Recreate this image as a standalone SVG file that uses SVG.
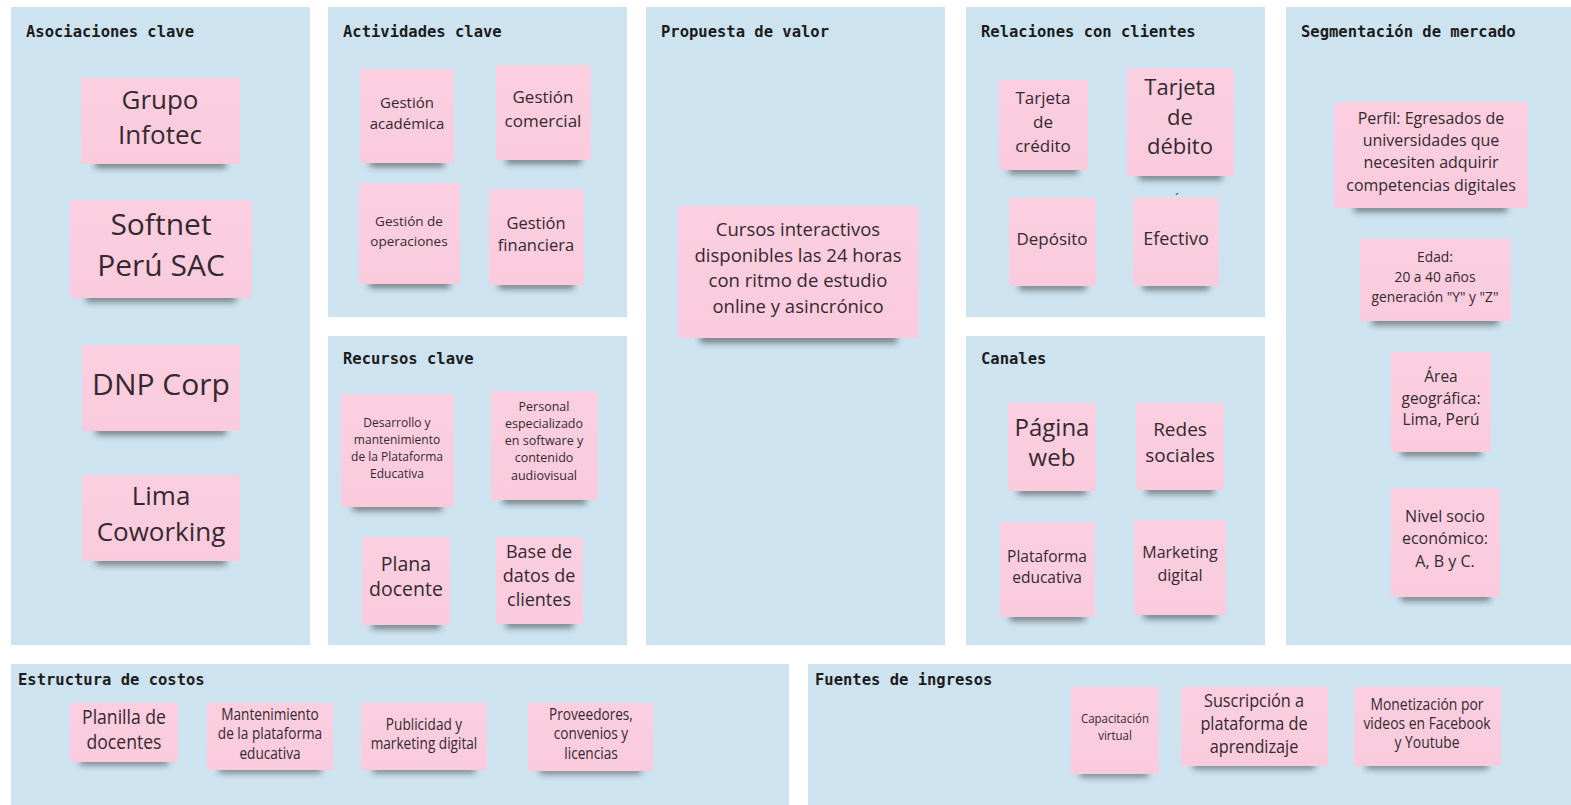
<svg xmlns="http://www.w3.org/2000/svg" width="1571" height="805" viewBox="0 0 1571 805">
<style>
.panel{fill:#cde3ef}
.hdr{font-family:"DejaVu Sans Mono","Liberation Mono",monospace;font-weight:bold;font-size:15.5px;fill:#1c1c1c}
.note{fill:url(#ng)}
.sh{fill:#2a2a2a;opacity:0.55;filter:url(#blur)}
.t{font-family:"Open Sans","Noto Sans",sans-serif;fill:#35292f;text-anchor:middle}
</style>
<defs>
<linearGradient id="ng" x1="0" y1="0" x2="0" y2="1">
<stop offset="0" stop-color="#fbcfe0"/>
<stop offset="1" stop-color="#f9cbdd"/>
</linearGradient>
<filter id="blur" x="-20%" y="-200%" width="140%" height="500%"><feGaussianBlur stdDeviation="3"/></filter>
</defs>
<rect width="1571" height="805" fill="#ffffff"/>

<g id="panels">
<rect class="panel" x="11" y="7" width="299" height="638"/>
<rect class="panel" x="328" y="7" width="299" height="310"/>
<rect class="panel" x="328" y="336" width="299" height="309"/>
<rect class="panel" x="646" y="7" width="299" height="638"/>
<rect class="panel" x="966" y="7" width="299" height="310"/>
<rect class="panel" x="966" y="336" width="299" height="309"/>
<rect class="panel" x="1286" y="7" width="285" height="638"/>
<rect class="panel" x="11" y="664" width="778" height="141"/>
<rect class="panel" x="808" y="664" width="763" height="141"/>
<text class="hdr" x="26" y="37">Asociaciones clave</text>
<text class="hdr" x="343" y="37">Actividades clave</text>
<text class="hdr" x="343" y="364">Recursos clave</text>
<text class="hdr" x="661" y="37">Propuesta de valor</text>
<text class="hdr" x="981" y="37">Relaciones con clientes</text>
<text class="hdr" x="981" y="364">Canales</text>
<text class="hdr" x="1301" y="37">Segmentación de mercado</text>
<text class="hdr" x="18" y="685">Estructura de costos</text>
<text class="hdr" x="815" y="685">Fuentes de ingresos</text>
</g>

<!-- Asociaciones clave -->
<g id="n-grupo-infotec">
<rect class="sh" x="95" y="160" width="131" height="8"/>
<rect class="note" x="81" y="78" width="159" height="86"/>
<text class="t" font-size="26" x="160"><tspan x="160" y="109">Grupo</tspan><tspan x="160" y="144">Infotec</tspan></text>
</g>
<g id="n-softnet">
<rect class="sh" x="86" y="294" width="150" height="8"/>
<rect class="note" x="70" y="200" width="182" height="98"/>
<text class="t" font-size="30" x="161"><tspan x="161" y="235">Softnet</tspan><tspan x="161" y="276">Perú SAC</tspan></text>
</g>
<g id="n-dnp">
<rect class="sh" x="96" y="427" width="130" height="8"/>
<rect class="note" x="82" y="345" width="158" height="86"/>
<text class="t" font-size="30" x="161" y="395">DNP Corp</text>
</g>
<g id="n-lima">
<rect class="sh" x="96" y="557" width="130" height="8"/>
<rect class="note" x="82" y="475" width="158" height="86"/>
<text class="t" font-size="26" x="161"><tspan x="161" y="505">Lima</tspan><tspan x="161" y="541">Coworking</tspan></text>
</g>

<!-- Actividades clave -->
<g id="n-gestion-academica">
<rect class="sh" x="370" y="159" width="74" height="8"/>
<rect class="note" x="360" y="69" width="94" height="94"/>
<text class="t" font-size="15" x="407"><tspan x="407" y="108">Gestión</tspan><tspan x="407" y="129">académica</tspan></text>
</g>
<g id="n-gestion-comercial">
<rect class="sh" x="506" y="156" width="75" height="8"/>
<rect class="note" x="496" y="65" width="95" height="95"/>
<text class="t" font-size="17" x="543"><tspan x="543" y="103">Gestión</tspan><tspan x="543" y="127">comercial</tspan></text>
</g>
<g id="n-gestion-operaciones">
<rect class="sh" x="369" y="280" width="81" height="8"/>
<rect class="note" x="359" y="183" width="101" height="101"/>
<text class="t" font-size="13.5" x="409"><tspan x="409" y="226">Gestión de</tspan><tspan x="409" y="246">operaciones</tspan></text>
</g>
<g id="n-gestion-financiera">
<rect class="sh" x="499" y="281" width="75" height="8"/>
<rect class="note" x="489" y="189" width="95" height="96"/>
<text class="t" font-size="16.5" x="536"><tspan x="536" y="229">Gestión</tspan><tspan x="536" y="251">financiera</tspan></text>
</g>

<!-- Recursos clave -->
<g id="n-desarrollo">
<rect class="sh" x="353" y="503" width="89" height="8"/>
<rect class="note" x="341" y="394" width="113" height="113"/>
<text class="t" font-size="12" x="397"><tspan x="397" y="427">Desarrollo y</tspan><tspan x="397" y="444">mantenimiento</tspan><tspan x="397" y="461">de la Plataforma</tspan><tspan x="397" y="478">Educativa</tspan></text>
</g>
<g id="n-personal">
<rect class="sh" x="503" y="496" width="83" height="8"/>
<rect class="note" x="491" y="391" width="107" height="109"/>
<text class="t" font-size="12.5" x="544"><tspan x="544" y="411">Personal</tspan><tspan x="544" y="428">especializado</tspan><tspan x="544" y="445">en software y</tspan><tspan x="544" y="462">contenido</tspan><tspan x="544" y="480">audiovisual</tspan></text>
</g>
<g id="n-plana">
<rect class="sh" x="372" y="621" width="68" height="8"/>
<rect class="note" x="362" y="537" width="88" height="88"/>
<text class="t" font-size="19.5" x="406"><tspan x="406" y="571">Plana</tspan><tspan x="406" y="596">docente</tspan></text>
</g>
<g id="n-base">
<rect class="sh" x="506" y="620" width="67" height="8"/>
<rect class="note" x="496" y="537" width="87" height="87"/>
<text class="t" font-size="18" x="539"><tspan x="539" y="558">Base de</tspan><tspan x="539" y="582">datos de</tspan><tspan x="539" y="606">clientes</tspan></text>
</g>

<!-- Propuesta de valor -->
<g id="n-cursos">
<rect class="sh" x="700" y="334" width="197" height="9"/>
<rect class="note" x="678" y="206" width="241" height="132"/>
<text class="t" font-size="18.5" x="798"><tspan x="798" y="236">Cursos interactivos</tspan><tspan x="798" y="262">disponibles las 24 horas</tspan><tspan x="798" y="287">con ritmo de estudio</tspan><tspan x="798" y="313">online y asincrónico</tspan></text>
</g>

<!-- Relaciones con clientes -->
<g id="n-tarjeta-credito">
<rect class="sh" x="1009" y="166" width="69" height="8"/>
<rect class="note" x="999" y="80" width="89" height="90"/>
<text class="t" font-size="17" x="1043"><tspan x="1043" y="104">Tarjeta</tspan><tspan x="1043" y="128">de</tspan><tspan x="1043" y="152">crédito</tspan></text>
</g>
<g id="n-tarjeta-debito">
<rect class="sh" x="1139" y="172" width="83" height="8"/>
<rect class="note" x="1127" y="68" width="107" height="108"/>
<text class="t" font-size="22" x="1180"><tspan x="1180" y="95">Tarjeta</tspan><tspan x="1180" y="125">de</tspan><tspan x="1180" y="154">débito</tspan></text>
</g>
<text class="t" font-size="13" x="1177" y="203">´</text>
<g id="n-deposito">
<rect class="sh" x="1019" y="282" width="67" height="8"/>
<rect class="note" x="1009" y="198" width="87" height="88"/>
<text class="t" font-size="17" x="1052" y="245">Depósito</text>
</g>
<g id="n-efectivo">
<rect class="sh" x="1143" y="282" width="66" height="8"/>
<rect class="note" x="1133" y="198" width="86" height="88"/>
<text class="t" font-size="18" x="1176" y="245">Efectivo</text>
</g>

<!-- Canales -->
<g id="n-pagina-web">
<rect class="sh" x="1018" y="487" width="68" height="8"/>
<rect class="note" x="1008" y="403" width="88" height="88"/>
<text class="t" font-size="24" x="1052"><tspan x="1052" y="436">Página</tspan><tspan x="1052" y="466">web</tspan></text>
</g>
<g id="n-redes">
<rect class="sh" x="1146" y="486" width="68" height="8"/>
<rect class="note" x="1136" y="403" width="88" height="87"/>
<text class="t" font-size="19" x="1180"><tspan x="1180" y="436">Redes</tspan><tspan x="1180" y="462">sociales</tspan></text>
</g>
<g id="n-plataforma">
<rect class="sh" x="1010" y="613" width="75" height="8"/>
<rect class="note" x="1000" y="522" width="95" height="95"/>
<text class="t" font-size="15.5" x="1047"><tspan x="1047" y="562">Plataforma</tspan><tspan x="1047" y="583">educativa</tspan></text>
</g>
<g id="n-marketing">
<rect class="sh" x="1144" y="611" width="72" height="8"/>
<rect class="note" x="1134" y="520" width="92" height="95"/>
<text class="t" font-size="16" x="1180"><tspan x="1180" y="558">Marketing</tspan><tspan x="1180" y="581">digital</tspan></text>
</g>

<!-- Segmentación de mercado -->
<g id="n-perfil">
<rect class="sh" x="1354" y="204" width="153" height="8"/>
<rect class="note" x="1334" y="102" width="194" height="106"/>
<text class="t" font-size="16" x="1431"><tspan x="1431" y="124">Perfil: Egresados de</tspan><tspan x="1431" y="146">universidades que</tspan><tspan x="1431" y="168">necesiten adquirir</tspan><tspan x="1431" y="191">competencias digitales</tspan></text>
</g>
<g id="n-edad">
<rect class="sh" x="1372" y="317" width="126" height="8"/>
<rect class="note" x="1360" y="239" width="151" height="82"/>
<text class="t" font-size="13.8" x="1435"><tspan x="1435" y="262">Edad:</tspan><tspan x="1435" y="282">20 a 40 años</tspan><tspan x="1435" y="302">generación "Y" y "Z"</tspan></text>
</g>
<g id="n-area">
<rect class="sh" x="1401" y="448" width="80" height="8"/>
<rect class="note" x="1391" y="352" width="100" height="100"/>
<text class="t" font-size="15.5" x="1441"><tspan x="1441" y="382">Área</tspan><tspan x="1441" y="404">geográfica:</tspan><tspan x="1441" y="425">Lima, Perú</tspan></text>
</g>
<g id="n-nivel">
<rect class="sh" x="1401" y="593" width="89" height="8"/>
<rect class="note" x="1391" y="488" width="109" height="109"/>
<text class="t" font-size="16" x="1445"><tspan x="1445" y="522">Nivel socio</tspan><tspan x="1445" y="544">económico:</tspan><tspan x="1445" y="567">A, B y C.</tspan></text>
</g>

<!-- Estructura de costos -->
<g id="n-planilla">
<rect class="sh" x="80" y="758" width="88" height="7"/>
<rect class="note" x="70" y="703" width="108" height="59"/>
<text class="t" font-size="20" x="124" transform="translate(124 0) scale(0.88 1) translate(-124 0)"><tspan x="124" y="724">Planilla de</tspan><tspan x="124" y="749">docentes</tspan></text>
</g>
<g id="n-mantenimiento">
<rect class="sh" x="219" y="766" width="102" height="7"/>
<rect class="note" x="207" y="703" width="126" height="67"/>
<text class="t" font-size="15.5" x="270" transform="translate(270 0) scale(0.88 1) translate(-270 0)"><tspan x="270" y="720">Mantenimiento</tspan><tspan x="270" y="739">de la plataforma</tspan><tspan x="270" y="759">educativa</tspan></text>
</g>
<g id="n-publicidad">
<rect class="sh" x="373" y="766" width="102" height="7"/>
<rect class="note" x="361" y="703" width="126" height="67"/>
<text class="t" font-size="15.5" x="424" transform="translate(424 0) scale(0.88 1) translate(-424 0)"><tspan x="424" y="730">Publicidad y</tspan><tspan x="424" y="749">marketing digital</tspan></text>
</g>
<g id="n-proveedores">
<rect class="sh" x="540" y="767" width="101" height="7"/>
<rect class="note" x="528" y="703" width="125" height="68"/>
<text class="t" font-size="15.5" x="591" transform="translate(591 0) scale(0.88 1) translate(-591 0)"><tspan x="591" y="720">Proveedores,</tspan><tspan x="591" y="739">convenios y</tspan><tspan x="591" y="759">licencias</tspan></text>
</g>

<!-- Fuentes de ingresos -->
<g id="n-capacitacion">
<rect class="sh" x="1080" y="770" width="68" height="7"/>
<rect class="note" x="1071" y="687" width="88" height="87"/>
<text class="t" font-size="13" x="1115" transform="translate(1115 0) scale(0.88 1) translate(-1115 0)"><tspan x="1115" y="723">Capacitación</tspan><tspan x="1115" y="740">virtual</tspan></text>
</g>
<g id="n-suscripcion">
<rect class="sh" x="1193" y="762" width="122" height="7"/>
<rect class="note" x="1181" y="687" width="147" height="79"/>
<text class="t" font-size="18.5" x="1254" transform="translate(1254 0) scale(0.88 1) translate(-1254 0)"><tspan x="1254" y="707">Suscripción a</tspan><tspan x="1254" y="730">plataforma de</tspan><tspan x="1254" y="753">aprendizaje</tspan></text>
</g>
<g id="n-monetizacion">
<rect class="sh" x="1366" y="762" width="122" height="7"/>
<rect class="note" x="1354" y="687" width="147" height="79"/>
<text class="t" font-size="15.8" x="1427" transform="translate(1427 0) scale(0.88 1) translate(-1427 0)"><tspan x="1427" y="710">Monetización por</tspan><tspan x="1427" y="729">videos en Facebook</tspan><tspan x="1427" y="748">y Youtube</tspan></text>
</g>
</svg>
